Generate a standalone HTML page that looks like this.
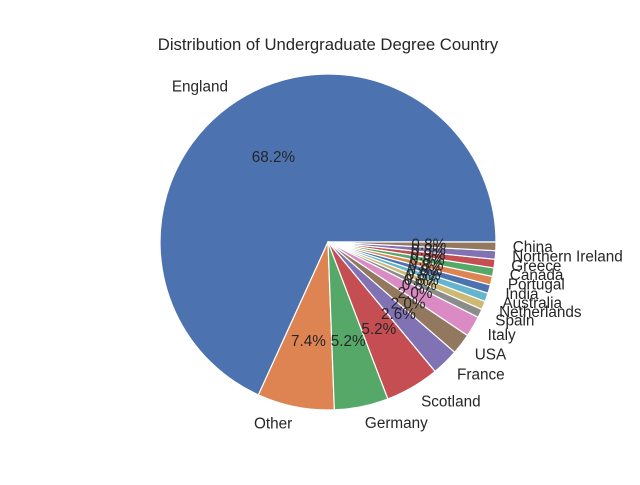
<!DOCTYPE html>
<html><head><meta charset="utf-8"><style>
html,body{margin:0;padding:0;background:#fff;}
svg text{font-family:"Liberation Sans","DejaVu Sans",sans-serif;fill:#262626;}
</style></head><body>
<svg id="chart" width="640" height="480" xmlns="http://www.w3.org/2000/svg">
<rect width="640" height="480" fill="#fff"/>
<text x="328" y="50" font-size="16.7" text-anchor="middle">Distribution of Undergraduate Degree Country</text>
<g id="slices"></g><g id="labels"></g>
</svg>
<script>
const categories = ["England","Other","Germany","Scotland","France","USA","Italy","Spain","Netherlands","Australia","India","Portugal","Canada","Greece","Northern Ireland","China"];
const values = [68.2,7.4,5.2,5.2,2.6,2.0,2.0,0.822,0.822,0.822,0.822,0.822,0.822,0.822,0.822,0.822];
const colors = ["#4C72B0","#DD8452","#55A868","#C44E52","#8172B3","#937860","#DA8BC3","#8C8C8C","#CCB974","#64B5CD"];
const cx=328, cy=242, R=168;
const NS="http://www.w3.org/2000/svg";
const gS=document.getElementById('slices'), gL=document.getElementById('labels');
const total=values.reduce((a,b)=>a+b,0);
let a0=0;
values.forEach((v,i)=>{
  const a1=a0+v/total*2*Math.PI;
  const x0=cx+R*Math.cos(a0), y0=cy-R*Math.sin(a0);
  const x1=cx+R*Math.cos(a1), y1=cy-R*Math.sin(a1);
  const large=(a1-a0)>Math.PI?1:0;
  const p=document.createElementNS(NS,'path');
  p.setAttribute('d',`M${cx},${cy} L${x0},${y0} A${R},${R} 0 ${large} 0 ${x1},${y1} Z`);
  p.setAttribute('fill',colors[i%colors.length]);
  p.setAttribute('stroke','#fff');p.setAttribute('stroke-width','1.2');p.setAttribute('stroke-linejoin','round');
  
  
  gS.appendChild(p);
  const am=(a0+a1)/2, c=Math.cos(am), s=Math.sin(am);
  const t=document.createElementNS(NS,'text');
  t.setAttribute('x',cx+1.1*R*c);t.setAttribute('y',cy-1.1*R*s+5);
  t.setAttribute('font-size','15.3');
  t.setAttribute('text-anchor',c<0?'end':'start');
  t.textContent=categories[i];
  
  
  gL.appendChild(t);
  const q=document.createElementNS(NS,'text');
  q.setAttribute('x',cx+0.6*R*c);q.setAttribute('y',cy-0.6*R*s+5);
  q.setAttribute('font-size','15.3');q.setAttribute('text-anchor','middle');
  q.textContent=(v/total*100).toFixed(1)+'%';
  
  
  gL.appendChild(q);
  a0=a1;
});
</script>
</body></html>
